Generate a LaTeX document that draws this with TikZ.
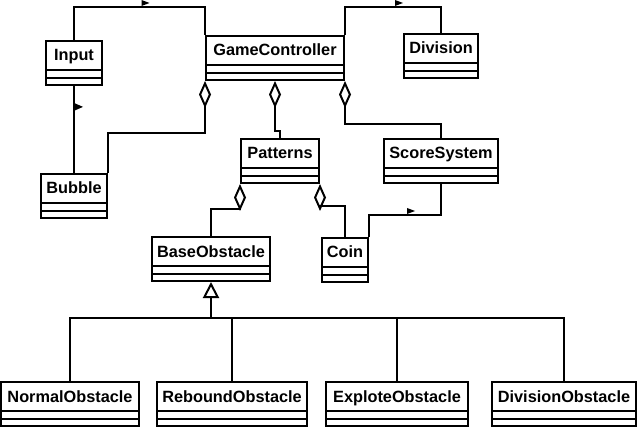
\documentclass[tikz,border=0pt]{standalone}
\usepackage{fontspec}
\setmainfont{Liberation Sans}
\usetikzlibrary{arrows.meta}

\tikzset{
  umlclass/.style={draw, line width=2pt, minimum height=44pt, inner sep=0pt,
    label={[anchor=base, yshift=-21pt, font=\bfseries\fontsize{16.3pt}{19pt}\selectfont]north:#1}},
  assoc/.style={line width=2pt},
  aggr/.style={line width=2pt, {Diamond[open,length=27pt,width=12pt]}-},
  inherit/.style={line width=2pt, -{Triangle[open,length=16pt,width=16pt]}},
  flagh/.pic={\fill (2,-1) -- (2,-7) -- (10,-4) -- cycle;},
  flagv/.pic={\fill (1,-3.5) -- (1,3.5) -- (9,0) -- cycle;}
}

\begin{document}
\begin{tikzpicture}[x=1pt, y=-1pt]
\useasboundingbox (0,0) rectangle (639,430);
% classes
\node[umlclass=Input, minimum width=56pt] (input) at (74,63) {};
\node[umlclass=GameController, minimum width=138pt] (gc) at (275,58) {};
\node[umlclass=Division, minimum width=74pt] (division) at (441,56) {};
\node[umlclass=Bubble, minimum width=66pt] (bubble) at (74,196) {};
\node[umlclass=Patterns, minimum width=78pt] (patterns) at (280,161) {};
\node[umlclass=ScoreSystem, minimum width=114pt] (score) at (441,161) {};
\node[umlclass=BaseObstacle, minimum width=118pt] (base) at (211,259) {};
\node[umlclass=Coin, minimum width=46pt] (coin) at (345,260) {};
\node[umlclass=NormalObstacle, minimum width=138pt] (nobs) at (70,404) {};
\node[umlclass=ReboundObstacle, minimum width=150pt] (robs) at (232,404) {};
\node[umlclass=ExploteObstacle, minimum width=142pt] (eobs) at (397,404) {};
\node[umlclass=DivisionObstacle, minimum width=144pt] (dobs) at (564,404) {};
\foreach \c in {input,gc,division,bubble,patterns,score,base,coin,nobs,robs,eobs,dobs}
  \foreach \d in {8,16}
    \draw[assoc] ([yshift=\d pt]\c.south west) -- ([yshift=\d pt]\c.south east);
% associations
\draw[assoc] (input.north) |- coordinate[pos=.75] (f1) ([yshift=28pt]gc.north west) -- (gc.north west);
\draw[assoc] (input.south) -- coordinate[pos=.24] (f2) (bubble.north);
\draw[assoc] (gc.north east) -- ++(0,-28) -| coordinate[pos=.25] (f3) (division.north);
\draw[assoc] (score.south) -- ++(0,31) -| coordinate[pos=.25] (f4) (coin.north east);
\pic at (f1) {flagh};
\pic at (f2) {flagv};
\pic at (f3) {flagh};
\pic at (f4) {flagh};
% aggregations
\draw[aggr] (gc.south west) -- ++(0,52) -| (bubble.north east);
\draw[aggr] (gc.south) -- ++(0,50) -| (patterns.north);
\draw[aggr] (gc.south east) -- ++(0,43) -| (score.north);
\draw[aggr] (patterns.south west) -- ++(0,25) -| (base.north);
\draw[aggr] (patterns.south east) -- ++(0,22) -| (coin.north);
% inheritance
\draw[assoc] (nobs.north) -- ++(0,-63) coordinate (bus) -| (dobs.north);
\draw[assoc] (robs.north) -- ++(0,-63);
\draw[assoc] (eobs.north) -- ++(0,-63);
\draw[inherit] (bus -| base.south) -- (base.south);
\end{tikzpicture}
\end{document}
